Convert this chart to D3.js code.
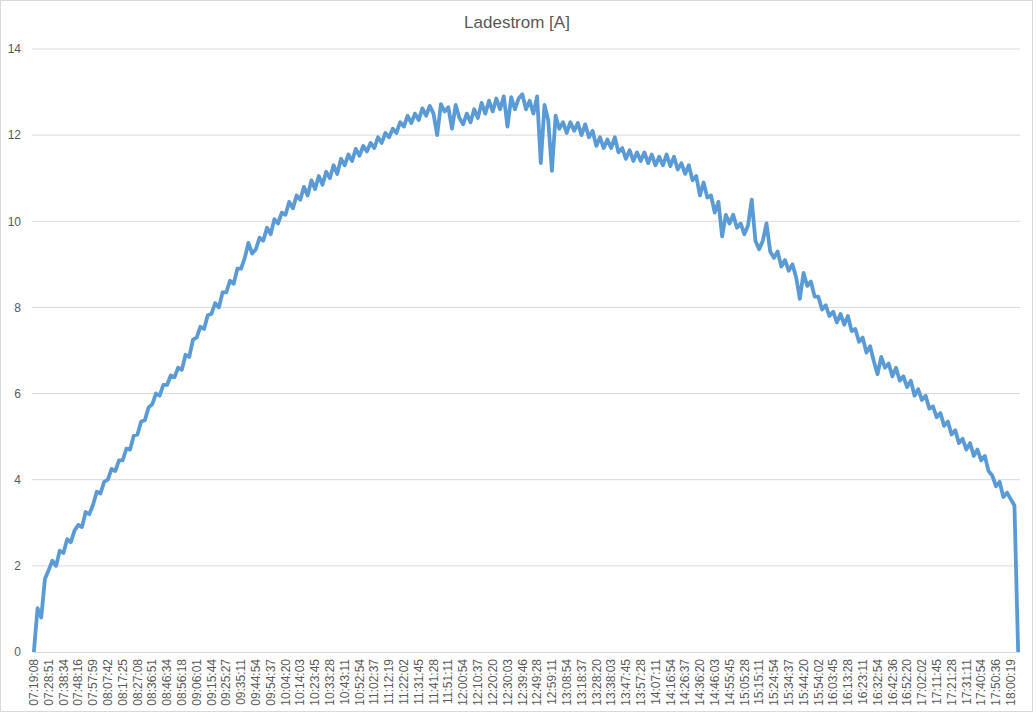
<!DOCTYPE html>
<html><head><meta charset="utf-8">
<script src="https://cdn.jsdelivr.net/npm/d3@7/dist/d3.min.js"></script>
<style>body{margin:0;background:#fff}svg{display:block}</style>
</head><body>
<svg id="chart" width="1036" height="713"></svg>
<script>
const title = "Ladestrom [A]";
const yTicks = [0, 2, 4, 6, 8, 10, 12, 14];
const timeLabels = ["07:19:08","07:28:51","07:38:34","07:48:16","07:57:59","08:07:42","08:17:25","08:27:08","08:36:51","08:46:34","08:56:18","09:06:01","09:15:44","09:25:27","09:35:11","09:44:54","09:54:37","10:04:20","10:14:03","10:23:45","10:33:28","10:43:11","10:52:54","11:02:37","11:12:19","11:22:02","11:31:45","11:41:28","11:51:11","12:00:54","12:10:37","12:20:20","12:30:03","12:39:46","12:49:28","12:59:11","13:08:54","13:18:37","13:28:20","13:38:03","13:47:45","13:57:28","14:07:11","14:16:54","14:26:37","14:36:20","14:46:03","14:55:45","15:05:28","15:15:11","15:24:54","15:34:37","15:44:20","15:54:02","16:03:45","16:13:28","16:23:11","16:32:54","16:42:36","16:52:20","17:02:02","17:11:45","17:21:28","17:31:11","17:40:54","17:50:36","18:00:19"];
const labelEvery = 4;
const current = [
0,1.02,0.8,1.7,
1.9,2.12,2.0,2.35, 2.3,2.62,2.55,2.82, 2.95,2.9,3.25,3.2, 3.42,3.72,3.68,3.95,
4.0,4.25,4.2,4.45, 4.45,4.72,4.7,5.02, 5.05,5.35,5.38,5.68, 5.75,6.0,5.95,6.2,
6.2,6.42,6.38,6.6, 6.55,6.9,6.85,7.25, 7.3,7.55,7.5,7.82, 7.85,8.1,8.0,8.35,
8.35,8.62,8.55,8.9, 8.9,9.15,9.5,9.25, 9.35,9.62,9.55,9.85, 9.7,10.05,9.95,10.2,
10.15,10.45,10.3,10.6, 10.5,10.8,10.6,10.95, 10.75,11.05,10.85,11.15, 11.0,11.3,11.1,11.45,
11.3,11.55,11.4,11.68, 11.52,11.75,11.62,11.82, 11.7,11.95,11.82,12.05, 11.95,12.15,12.05,12.3,
12.2,12.45,12.28,12.5, 12.35,12.62,12.45,12.68, 12.5,12.0,12.72,12.55, 12.65,12.15,12.7,12.4,
12.25,12.5,12.3,12.6, 12.4,12.75,12.5,12.8, 12.55,12.85,12.6,12.9, 12.2,12.88,12.6,12.85,
12.95,12.6,12.8,12.5, 12.9,11.35,12.7,12.35, 11.17,12.45,12.15,12.3, 12.05,12.3,12.1,12.28,
12.0,12.25,11.95,12.1, 11.75,11.95,11.7,11.9, 11.7,11.95,11.6,11.7, 11.45,11.65,11.4,11.6,
11.4,11.6,11.35,11.55, 11.3,11.5,11.3,11.55, 11.28,11.5,11.2,11.35, 11.1,11.3,10.95,11.05,
10.6,10.9,10.55,10.6, 10.2,10.45,9.65,10.15, 9.95,10.15,9.85,9.95, 9.7,9.9,10.5,9.55,
9.35,9.55,9.95,9.3, 9.15,9.3,8.95,9.1, 8.85,9.0,8.7,8.2, 8.8,8.5,8.6,8.25,
8.25,7.95,8.05,7.8, 7.9,7.65,7.85,7.6, 7.8,7.45,7.5,7.2, 7.3,6.95,7.1,6.75,
6.45,6.85,6.6,6.7, 6.4,6.6,6.3,6.4, 6.15,6.3,5.95,6.1, 5.85,5.95,5.65,5.7,
5.45,5.55,5.25,5.35, 5.05,5.15,4.85,4.95, 4.7,4.85,4.55,4.7, 4.45,4.55,4.2,4.1,
3.85,3.95,3.6,3.7, 3.55,3.4,0
];

const svg = d3.select("#chart");
const plot = {left: 32, right: 1020, top: 49, bottom: 652};

svg.append("rect").attr("x",0.5).attr("y",0.5).attr("width",1032).attr("height",711)
  .attr("fill","#fff").attr("stroke","#d9d9d9");

const x = d3.scaleBand().domain(d3.range(current.length)).range([plot.left, plot.right]);
const xc = i => x(i) + x.bandwidth()/2;
const y = d3.scaleLinear().domain([0, 14]).range([plot.bottom, plot.top]);

svg.append("g").selectAll("line").data(yTicks.filter(t => t > 0)).join("line")
  .attr("x1", plot.left).attr("x2", plot.right)
  .attr("y1", d => y(d)).attr("y2", d => y(d))
  .attr("stroke", "#d9d9d9").attr("stroke-width", 1);

const yAxis = d3.axisLeft(y).tickValues(yTicks).tickSize(0).tickPadding(0);
const yg = svg.append("g").attr("transform", `translate(21,0)`).call(yAxis);
yg.select(".domain").remove();
yg.selectAll("text").attr("fill","#595959").style("font-family","'Liberation Sans', Arial, sans-serif").style("font-size","12px");

const tickIdx = timeLabels.map((_, k) => k * labelEvery);
const xAxis = d3.axisBottom(x).tickValues(tickIdx).tickFormat(i => timeLabels[i / labelEvery]).tickSize(0);
const xg = svg.append("g").attr("transform", `translate(0,${plot.bottom})`).call(xAxis);
xg.select(".domain").attr("stroke","#d9d9d9");
xg.selectAll("text")
  .attr("fill","#595959")
  .style("font-family","'Liberation Sans', Arial, sans-serif").style("font-size","12px")
  .attr("text-anchor","end")
  .attr("transform","rotate(-90)")
  .attr("x",-7).attr("y",0).attr("dy","0.35em");

const line = d3.line().x((d, i) => xc(i)).y(d => y(d));
svg.append("path").datum(current).attr("d", line)
  .attr("fill","none").attr("stroke","#5b9bd5").attr("stroke-width",3.8)
  .attr("stroke-linejoin","round").attr("stroke-linecap","butt");

svg.append("text").attr("x", 517).attr("y", 28).attr("text-anchor","middle")
  .attr("fill","#595959").style("font-family","'Liberation Sans', Arial, sans-serif").style("font-size","17px")
  .text(title);
</script>
</body></html>
